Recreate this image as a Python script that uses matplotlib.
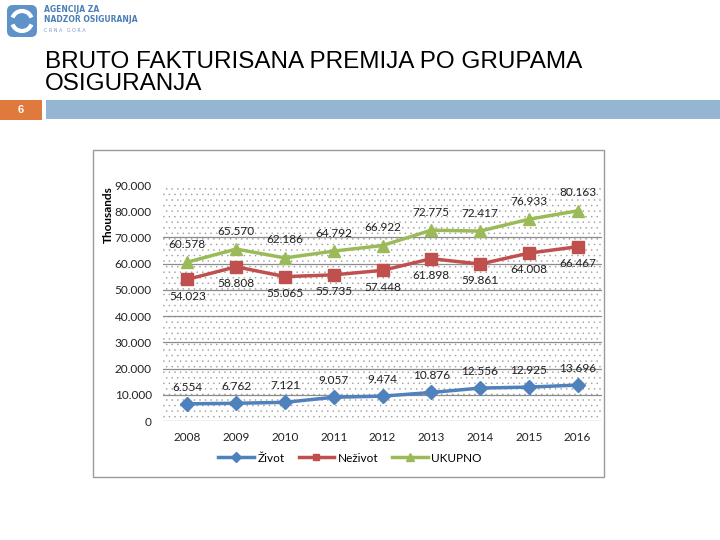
import matplotlib.pyplot as plt
from matplotlib.patches import Rectangle, FancyBboxPatch, Arc
from matplotlib.lines import Line2D

years = ["2008", "2009", "2010", "2011", "2012", "2013", "2014", "2015", "2016"]
zivot = [6554, 6762, 7121, 9057, 9474, 10876, 12556, 12925, 13696]
nezivot = [54023, 58808, 55065, 55735, 57448, 61898, 59861, 64008, 66467]
ukupno = [60578, 65570, 62186, 64792, 66922, 72775, 72417, 76933, 80163]
yticks = list(range(0, 90001, 10000))

title = "BRUTO FAKTURISANA PREMIJA PO GRUPAMA\nOSIGURANJA"

plt.rcParams["hatch.linewidth"] = 0.3

W, H = 720, 540
fig = plt.figure(figsize=(W / 100, H / 100), dpi=100)

# slide background layer in pixel coordinates
bg = fig.add_axes([0, 0, 1, 1])
bg.set_xlim(0, W)
bg.set_ylim(H, 0)
bg.axis("off")

# logo
bg.add_patch(FancyBboxPatch((7, 5), 30, 32, boxstyle="round,pad=0,rounding_size=6",
                            fc="#5f92c8", ec="none"))
bg.add_patch(Arc((22, 21), 20, 20, theta1=200, theta2=340, lw=3, color="white"))
bg.add_patch(Arc((22, 21), 20, 20, theta1=20, theta2=160, lw=3, color="white"))
bg.text(44, 9, "AGENCIJA ZA", fontsize=5.5, color="#4a7fb8", va="center",
        family="DejaVu Sans", fontweight="bold")
bg.text(44, 20, "NADZOR OSIGURANJA", fontsize=5.5, color="#4a7fb8", va="center",
        family="DejaVu Sans", fontweight="bold")
bg.text(44, 31, "C R N A   G O R A", fontsize=3.5, color="#7a9cc6", va="center",
        family="DejaVu Sans")

# title
bg.text(45, 73, title, fontsize=17.5, family="Liberation Sans", va="center",
        ha="left", linespacing=1.05, color="#000000")

# number box + bar
bg.add_patch(Rectangle((0, 100), 42, 20, fc="#e07a3c", ec="none"))
bg.text(21, 110, "6", color="white", fontsize=8, fontweight="bold",
        ha="center", va="center", family="Liberation Sans")
bg.add_patch(Rectangle((46, 100), W - 46, 19, fc="#94b6d2", ec="none"))

# chart frame
bg.add_patch(Rectangle((93, 150), 511, 327, fc="white", ec="#9a9a9a", lw=1))

# plot area
left, right, top, bottom = 163, 602, 185, 421
ax = fig.add_axes([left / W, 1 - bottom / H, (right - left) / W, (bottom - top) / H])
ax.set_facecolor("none")
x = list(range(len(years)))
ax.set_xlim(-0.5, len(years) - 0.5)
ax.set_ylim(0, 90000)

# dotted background
ax.add_patch(Rectangle((-0.5, 0), len(years), 90000, fc="white", ec="#9a9a9a",
                       hatch="...", lw=0, zorder=0))
for v in yticks[:-2]:
    ax.axhline(v, color="#8c8c8c", lw=0.9, zorder=1)

c_z, c_n, c_u = "#4f81bd", "#c0504d", "#9bbb59"
ax.plot(x, zivot, color=c_z, lw=2.5, marker="D", ms=7, zorder=3)
ax.plot(x, nezivot, color=c_n, lw=2.5, marker="s", ms=8, zorder=3)
ax.plot(x, ukupno, color=c_u, lw=2.5, marker="^", ms=9, zorder=3)

def fmt(v):
    return "{:,}".format(v).replace(",", ".")

lab = dict(fontsize=8.5, family="Lato", color="#222222", ha="center", va="center")
for i in x:
    ax.annotate(fmt(zivot[i]), (i, zivot[i]), xytext=(0, 12), textcoords="offset points", **lab)
    ax.annotate(fmt(nezivot[i]), (i, nezivot[i]), xytext=(0, -12), textcoords="offset points", **lab)
    ax.annotate(fmt(ukupno[i]), (i, ukupno[i]), xytext=(0, 13), textcoords="offset points", **lab)

ax.set_yticks(yticks)
ax.set_yticklabels([fmt(v) for v in yticks], fontsize=8.5, family="Lato", color="#222222")
ax.set_xticks(x)
ax.set_xticklabels(years, fontsize=8.5, family="Lato", color="#222222")
ax.tick_params(length=0, pad=8)
for s in ax.spines.values():
    s.set_visible(False)

bg.text(108, 215, "Thousands", rotation=90, fontsize=8.5, family="Lato",
        fontweight="bold", ha="center", va="center")

handles = [Line2D([], [], color=c_z, lw=2.5, marker="D", ms=5),
           Line2D([], [], color=c_n, lw=2.5, marker="s", ms=5),
           Line2D([], [], color=c_u, lw=2.5, marker="^", ms=6)]
fig.legend(handles, ["Život", "Neživot", "UKUPNO"], loc="center",
           bbox_to_anchor=(350 / W, 1 - 458 / H), ncol=3, frameon=False,
           prop={"family": "Lato", "size": 8.5}, handlelength=3, columnspacing=1.2,
           handletextpad=0.3)

fig.savefig("out.png", dpi=100)
